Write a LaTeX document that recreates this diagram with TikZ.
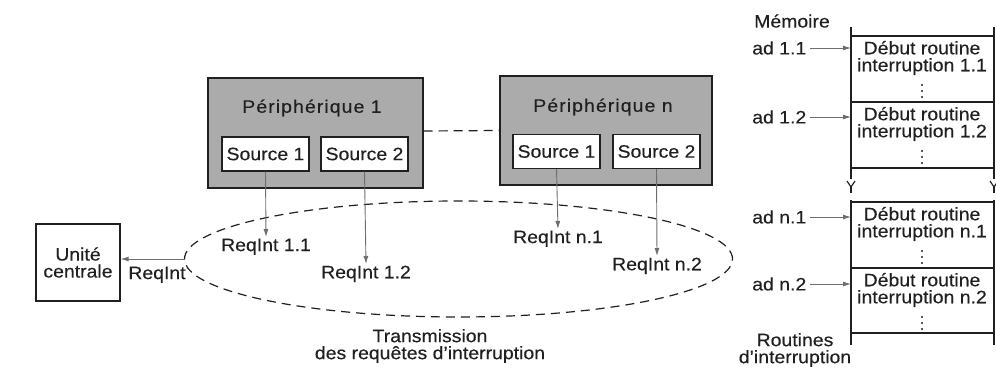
\documentclass[tikz,border=0pt]{standalone}
\usepackage{fontspec}
\setmainfont{Liberation Sans}[FakeStretch=1.08, FakeBold=0.3]
\usetikzlibrary{shapes.geometric,arrows.meta}
\definecolor{ink}{HTML}{202020}
\definecolor{wire}{HTML}{6E6E6E}
\definecolor{shade}{HTML}{ABABAB}
\begin{document}
\begin{tikzpicture}[x=1pt,y=-1pt,
  font=\fontsize{18}{18}\selectfont, text=ink,
  box/.style={draw=ink, line width=1.3pt, inner sep=0pt},
  devbox/.style={box, fill=shade},
  srcbox/.style={box, fill=white, minimum width=87pt, minimum height=34pt},
  lbl/.style={inner sep=1.5pt},
  devlbl/.style={lbl, font=\fontsize{18}{18}\selectfont\addfontfeature{LetterSpace=6}},
  twoline/.style={inner sep=0pt, align=center, font=\fontsize{18}{17}\selectfont},
  req/.style={draw=wire, line width=0.9pt, -{Latex[length=8pt,width=5pt]}},
  dashline/.style={draw=ink, line width=1.2pt, dash pattern=on 9pt off 6pt},
  memline/.style={draw=ink, line width=1.2pt},
  dotmark/.style={fill=ink, draw=none}
]
\useasboundingbox (0,0) rectangle (996,367);

% --- central unit -------------------------------------------------------
\node[box, minimum width=84pt, minimum height=77pt, twoline] (uc) at (78,262.5)
  {Unité\\centrale};

% --- peripherals and their interrupt sources ----------------------------
\node[devbox, minimum width=215pt, minimum height=110pt] (p1) at (315.5,133) {};
\node[devlbl] (p1t) at (312,108) {Périphérique 1};
\node[srcbox] (s11) at (265.5,154) {Source 1};
\node[srcbox] (s12) at (364.5,154) {Source 2};

\node[devbox, minimum width=212pt, minimum height=109pt] (pn) at (606,130.5) {};
\node[devlbl] (pnt) at (603,107) {Périphérique n};
\node[srcbox] (sn1) at (556.5,151.5) {Source 1};
\node[srcbox] (sn2) at (656.5,151.5) {Source 2};

\draw[dashline] ([yshift=2pt]p1.east) -- (pn.west);

% --- interrupt request bus ----------------------------------------------
\node[ellipse, dashline, minimum width=548pt, minimum height=116pt, inner sep=0pt]
  (bus) at (458.5,259) {};

\node[lbl, anchor=north] (r11) at (266,237) {ReqInt 1.1};
\node[lbl, anchor=north] (r12) at (366,264) {ReqInt 1.2};
\node[lbl, anchor=north] (rn1) at (558,229) {ReqInt n.1};
\node[lbl, anchor=north] (rn2) at (657,256) {ReqInt n.2};
\node[lbl, anchor=north] (rq) at (157,265) {ReqInt};

\draw[req] (s11.south) -- (r11.north);
\draw[req] (s12.south) -- (r12.north);
\draw[req] (sn1.south) -- (rn1.north);
\draw[req] (sn2.south) -- (rn2.north);
\draw[req] (bus.west) -- (bus.west -| uc.east);

\node[twoline] (bt) at (430,346) {Transmission\\des requêtes d’interruption};

% --- memory map ---------------------------------------------------------
\coordinate (mL) at (851,0);
\coordinate (mR) at (994,0);
\node[lbl] (mem) at (792,21) {Mémoire};
\node[twoline] (rt) at (795,350) {Routines\\d’interruption};

% side walls, broken by a gap
\foreach \x in {851,994} {
  \draw[memline] (\x,27) -- (\x,179);
  \draw[memline] (\x-4,181) -- (\x,187) -- (\x+4,181);
  \draw[memline] (\x,187) -- (\x,193);
  \draw[memline] (\x,200) -- (\x,345);
}
% block separators
\foreach \y in {36,102,168,202,268,333}
  \draw[memline] (851,\y) -- (994,\y);

% routine blocks
\foreach \top/\id/\num in {36/m11/1.1, 102/m12/1.2, 202/mn1/n.1, 268/mn2/n.2} {
  \node[twoline] (\id) at (922,\top+22) {Début routine\\interruption \num};
  \foreach \d in {49,55,61}
    \fill[dotmark] (922,\top+\d) circle (1.1pt);
}

% entry addresses
\node[lbl, anchor=east] (a11) at (808,48) {ad 1.1};
\node[lbl, anchor=east] (a12) at (808,117) {ad 1.2};
\node[lbl, anchor=east] (an1) at (808,217) {ad n.1};
\node[lbl, anchor=east] (an2) at (808,284) {ad n.2};
\foreach \a in {a11,a12,an1,an2}
  \draw[req, shorten <=2pt] (\a.east) -- (\a.east -| mL);
\end{tikzpicture}
\end{document}
